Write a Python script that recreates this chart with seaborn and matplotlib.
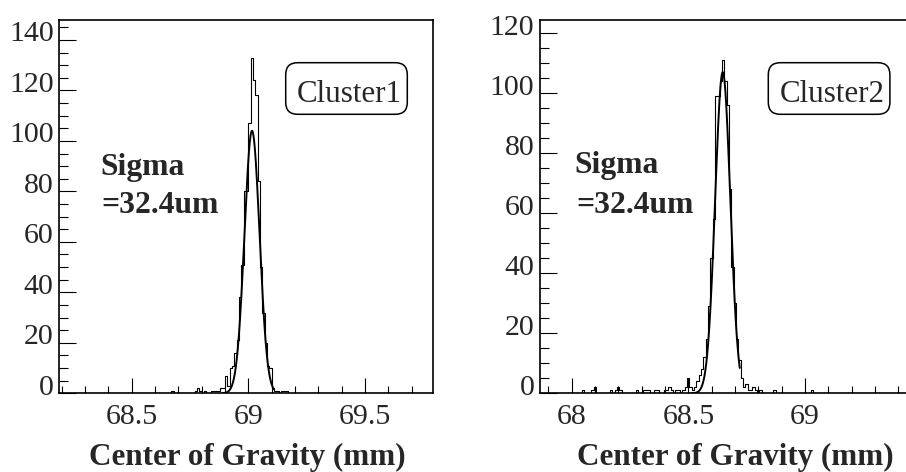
import numpy as np
import pandas as pd
import seaborn as sns
import matplotlib
matplotlib.use("Agg")
import matplotlib.pyplot as plt
from matplotlib.patches import FancyBboxPatch
from matplotlib.transforms import IdentityTransform, ScaledTranslation
from matplotlib.ticker import MultipleLocator

# ---------------- data ----------------
BIN_WIDTH = 0.01  # mm

# Cluster 1 histogram
X1_MIN, X1_MAX = 68.19, 69.793
N1_BINS = 160
C1_FIRST_BIN = 48
C1_COUNTS = [1, 0, 0, 0, 0, 0, 0, 0, 0, 0,
             1, 2, 1, 0, 1, 0, 0, 1, 1, 1,
             1, 2, 2, 7, 3, 10, 11, 16, 21, 38,
             51, 80, 80, 107, 133, 124, 118, 84, 50, 32,
             20, 11, 10, 2, 1, 1, 0, 1, 1, 1]
FIT1_AMP, FIT1_MEAN, FIT1_SIGMA = 104.0, 69.016, 0.0324
FIT1_RANGE = (68.89, 69.11)
Y1_MAX = 147.9

# Cluster 2 histogram
X2_MIN, X2_MAX = 67.864, 69.542
N2_BINS = 168
C2_FIRST_BIN = 18
C2_COUNTS = [1, 0, 0, 0, 1, 2, 0, 0, 0, 0,
             0, 0, 1, 0, 1, 2, 1, 0, 0, 0,
             0, 0, 0, 1, 0, 0, 1, 1, 1, 0,
             0, 1, 1, 0, 0, 1, 1, 2, 1, 0,
             1, 1, 0, 1, 2, 5, 2, 1, 2, 4,
             6, 8, 12, 18, 29, 45, 58, 99, 99, 104,
             111, 104, 96, 68, 42, 30, 18, 11, 5, 2,
             3, 1, 1, 2, 1, 0, 1, 0, 0, 0,
             0, 0, 1, 0, 0, 0, 0, 0, 0, 0,
             0, 0, 0, 0, 0, 0, 0, 0, 1]
FIT2_AMP, FIT2_MEAN, FIT2_SIGMA = 107.0, 68.647, 0.0324
FIT2_RANGE = (68.51, 68.72)
Y2_MAX = 124.4

Y_MAJOR_TICKS1 = [0, 20, 40, 60, 80, 100, 120, 140]
Y_MAJOR_TICKS2 = [0, 20, 40, 60, 80, 100, 120]
X_MAJOR_TICKS1 = [68.5, 69.0, 69.5]
X_MAJOR_TICKS2 = [68.0, 68.5, 69.0]
X_TICK_LABELS1 = ["68.5", "69", "69.5"]
X_TICK_LABELS2 = ["68", "68.5", "69"]

XLABEL = "Center of Gravity (mm)"
SIGMA_LINE1 = "Sigma"
SIGMA_LINE2 = "=32.4um"
NAMES = ["Cluster1", "Cluster2"]

# ---------------- style ----------------
sns.set_style("white")
plt.rcParams["font.family"] = ["Liberation Serif", "DejaVu Serif"]
plt.rcParams["axes.linewidth"] = 1.2

W, H = 906, 472
fig = plt.figure(figsize=(W / 100, H / 100), dpi=100)


def fx(px):
    return px / W


def fy(py):
    return 1 - py / H


ax_bottom = fy(393.3)
ax_height = 373.3 / H
ax1 = fig.add_axes([fx(59.3), ax_bottom, 374 / W, ax_height])
ax2 = fig.add_axes([fx(540), ax_bottom, 391.6 / W, ax_height])


def build_hist(xmin, nbins, first, counts):
    edges = xmin + BIN_WIDTH * np.arange(nbins + 1)
    vals = np.zeros(nbins)
    vals[first:first + len(counts)] = counts
    centers = 0.5 * (edges[:-1] + edges[1:])
    return edges, pd.DataFrame({"x": centers, "count": vals})


def draw(ax, xmin, xmax, nbins, first, counts, amp, mean, sig, frange, ymax,
         yticks, xticks, xticklabels, xlabel_center):
    edges, df = build_hist(xmin, nbins, first, counts)
    sns.histplot(data=df, x="x", weights="count", binwidth=BIN_WIDTH,
                 binrange=(edges[0], edges[-1]), element="step",
                 fill=False, color="black", linewidth=0.8, ax=ax)
    xf = np.linspace(frange[0], frange[1], 400)
    yf = amp * np.exp(-0.5 * ((xf - mean) / sig) ** 2)
    sns.lineplot(x=xf, y=yf, color="black", linewidth=1.4, ax=ax)
    ax.set_xlim(xmin, xmax)
    ax.set_ylim(0, ymax)
    ax.set_ylabel("")
    ax.set_yticks(yticks)
    ax.set_yticklabels([str(v) for v in yticks])
    ax.yaxis.set_minor_locator(MultipleLocator(5))
    ax.set_xticks(xticks)
    ax.set_xticklabels(xticklabels)
    ax.xaxis.set_minor_locator(MultipleLocator(0.1))
    ax.tick_params(axis="both", which="both", direction="in", color="black",
                   width=0.8, top=False, right=False, bottom=True, left=True,
                   labelsize=21.5)
    ax.tick_params(axis="y", which="major", length=12, pad=4)
    ax.tick_params(axis="y", which="minor", length=6.5)
    ax.tick_params(axis="x", which="major", length=11, pad=8)
    ax.tick_params(axis="x", which="minor", length=5)
    for s in ax.spines.values():
        s.set_color("black")
        s.set_linewidth(1.2)
    off = ScaledTranslation(0, -1.5 / 100, fig.dpi_scale_trans)
    for lab in ax.get_yticklabels():
        lab.set_va("baseline")
        lab.set_transform(lab.get_transform() + off)
    ax.set_xlabel(XLABEL, fontsize=22.4, fontweight="bold")
    ax.xaxis.label.set_va("baseline")
    ax.xaxis.set_label_coords(xlabel_center, (393.3 - 465) / 373.3)


draw(ax1, X1_MIN, X1_MAX, N1_BINS, C1_FIRST_BIN, C1_COUNTS, FIT1_AMP, FIT1_MEAN,
     FIT1_SIGMA, FIT1_RANGE, Y1_MAX, Y_MAJOR_TICKS1, X_MAJOR_TICKS1,
     X_TICK_LABELS1, (247.5 - 59.3) / 374)
draw(ax2, X2_MIN, X2_MAX, N2_BINS, C2_FIRST_BIN, C2_COUNTS, FIT2_AMP, FIT2_MEAN,
     FIT2_SIGMA, FIT2_RANGE, Y2_MAX, Y_MAJOR_TICKS2, X_MAJOR_TICKS2,
     X_TICK_LABELS2, (735.8 - 540) / 391.6)

# Sigma annotations
for (x1, b1, x2, b2) in [(100, 175, 101.7, 213.3), (574, 173.3, 576, 213.3)]:
    fig.text(fx(x1), fy(b1), SIGMA_LINE1, fontsize=22.8, fontweight="bold",
             va="baseline", ha="left")
    fig.text(fx(x2), fy(b2), SIGMA_LINE2, fontsize=22.8, fontweight="bold",
             va="baseline", ha="left")

# Cluster boxes
for name, bx, tx in [(NAMES[0], 285.7, 296.7), (NAMES[1], 768.3, 780)]:
    box = FancyBboxPatch((bx, H - 114.3), 121.6, 51.6,
                         boxstyle="round,pad=0,rounding_size=12",
                         transform=IdentityTransform(), fc="white",
                         ec="black", lw=1.1)
    fig.add_artist(box)
    fig.text(fx(tx), fy(101.7), name, fontsize=22.3, va="baseline", ha="left")

fig.savefig("out.png", dpi=100)
